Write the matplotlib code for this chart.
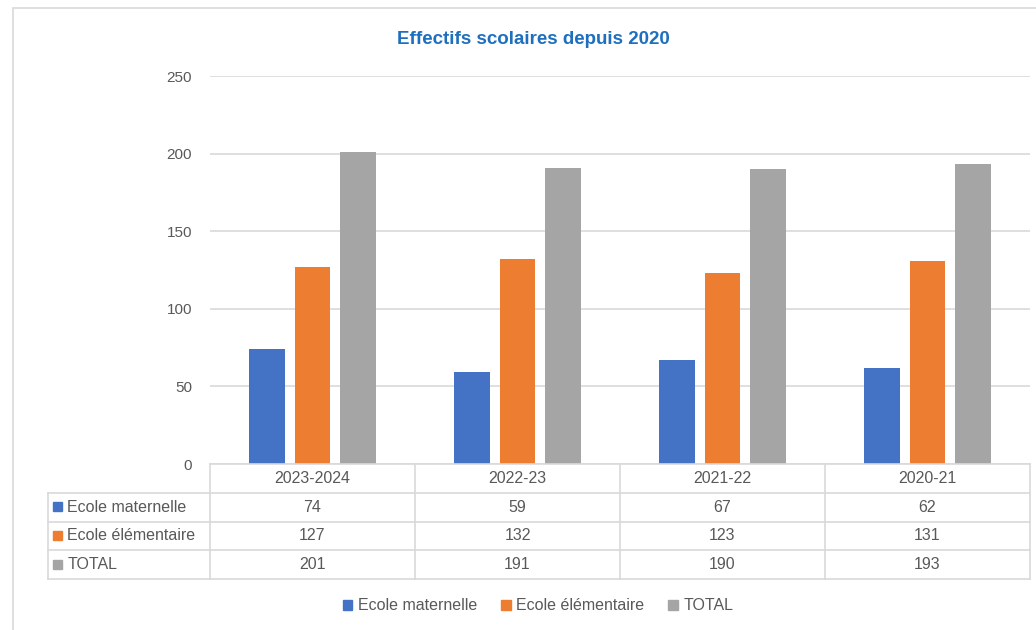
import matplotlib.pyplot as plt
from matplotlib.patches import Rectangle

# effectifs par année scolaire
annees = ['2023-2024', '2022-23', '2021-22', '2020-21']
maternelle = [74, 59, 67, 62]
elementaire = [127, 132, 123, 131]
total = [201, 191, 190, 193]

series = ['Ecole maternelle', 'Ecole élémentaire', 'TOTAL']
couleurs = ['#4472C4', '#ED7D31', '#A5A5A5']

plt.rcParams['font.family'] = ['Liberation Sans', 'DejaVu Sans']
texte = '#595959'
grille = '#D9D9D9'
taille = 11.5

W, H = 1036, 630
fig = plt.figure(figsize=(W / 100, H / 100), dpi=100)

# cadre de la zone de graphique
fig.patches.append(Rectangle((13 / W, -0.1), 1.2, 1 - 8 / H + 0.1, transform=fig.transFigure,
                             fill=False, edgecolor=grille, linewidth=1.2))

x0, x1 = 210, 1030
ax = fig.add_axes([x0 / W, 1 - 464 / H, (x1 - x0) / W, (464 - 76) / H])
largeur = 0.175
decal = 0.22
valeurs = [maternelle, elementaire, total]
for i, (vals, c) in enumerate(zip(valeurs, couleurs)):
    pos = [k + (i - 1) * decal for k in range(len(annees))]
    ax.bar(pos, vals, width=largeur, color=c, zorder=3)

ax.set_xlim(-0.5, len(annees) - 0.5)
ax.set_ylim(0, 250)
ax.set_yticks(range(0, 251, 50))
ax.set_xticks([])
ax.grid(axis='y', color=grille, linewidth=1.2, zorder=0)
ax.tick_params(axis='y', length=0, pad=13, labelcolor=texte, labelsize=11)
for s in ax.spines.values():
    s.set_visible(False)

# tableau de données sous le graphique
tab = fig.add_axes([x0 / W, 1 - 579 / H, (x1 - x0) / W, (579 - 464) / H])
tab.set_xlim(-0.5, len(annees) - 0.5)
tab.set_ylim(4, 0)
tab.axis('off')
gauche = -0.5 - (x0 - 48) / ((x1 - x0) / len(annees))
kw = dict(color=grille, linewidth=1.2, clip_on=False)
tab.plot([-0.5, len(annees) - 0.5], [0, 0], **kw)
for r in range(1, 5):
    tab.plot([gauche, len(annees) - 0.5], [r, r], **kw)
tab.plot([gauche, gauche], [1, 4], **kw)
for k in range(len(annees) + 1):
    tab.plot([k - 0.5, k - 0.5], [0, 4], **kw)
for k, a in enumerate(annees):
    tab.text(k, 0.5, a, ha='center', va='center', color=texte, fontsize=taille)
for r, (nom, vals, c) in enumerate(zip(series, valeurs, couleurs)):
    tab.add_patch(Rectangle((gauche + 0.025, r + 1.5 - 0.17), 0.045, 0.32, color=c, clip_on=False))
    tab.text(gauche + 0.095, r + 1.5, nom, ha='left', va='center', color=texte, fontsize=taille)
    for k, v in enumerate(vals):
        tab.text(k, r + 1.5, str(v), ha='center', va='center', color=texte, fontsize=taille)

fig.text(533 / W, 1 - 40 / H, 'Effectifs scolaires depuis 2020', ha='center', va='center',
         color='#1F6FBF', fontsize=13.5, fontweight='bold')

poignees = [Rectangle((0, 0), 1, 1, color=c) for c in couleurs]
fig.legend(poignees, series, loc='center', bbox_to_anchor=(538 / W, 1 - 606 / H), ncol=3,
           frameon=False, handlelength=0.6, handleheight=0.6, handletextpad=0.35,
           columnspacing=1.5, fontsize=taille, labelcolor=texte)

fig.savefig('out.png', dpi=100, facecolor='white')
